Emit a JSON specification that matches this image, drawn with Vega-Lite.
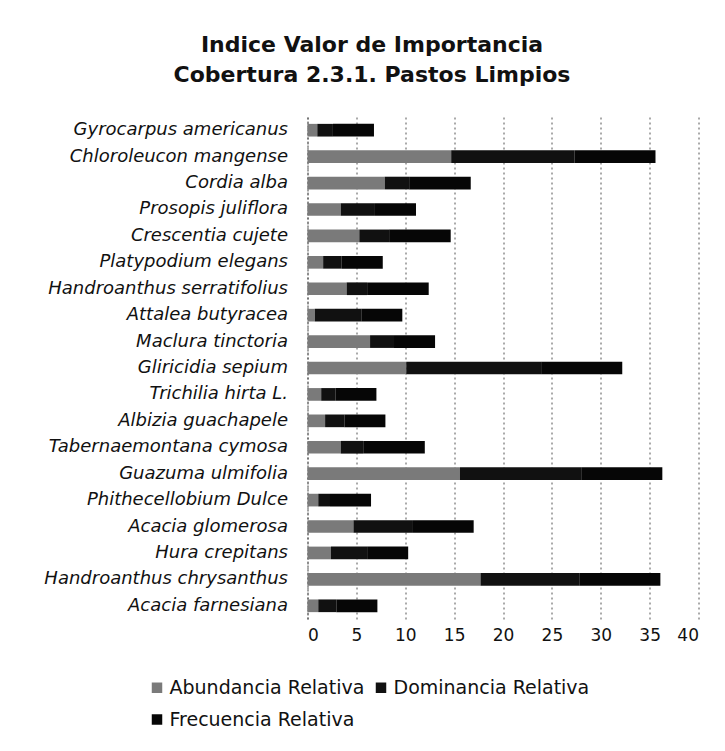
{
  "$schema": "https://vega.github.io/schema/vega-lite/v6.json",
  "autosize": {"type": "none"},
  "padding": {"left": 307.5, "top": 117, "right": 26.5, "bottom": 132},
  "width": 391,
  "height": 502,
  "background": "white",
  "title": {
    "text": ["Indice Valor de Importancia", "Cobertura 2.3.1. Pastos Limpios"],
    "font": "DejaVu Sans",
    "fontSize": 22,
    "fontWeight": "bold",
    "color": "#111111",
    "lineHeight": 30,
    "anchor": "middle",
    "frame": "group",
    "dx": -131,
    "offset": 30
  },
  "data": {
    "values": [
      {"species": "Gyrocarpus americanus", "Abundancia Relativa": 1.0, "Dominancia Relativa": 1.6, "Frecuencia Relativa": 4.2},
      {"species": "Chloroleucon mangense", "Abundancia Relativa": 14.7, "Dominancia Relativa": 12.6, "Frecuencia Relativa": 8.3},
      {"species": "Cordia alba", "Abundancia Relativa": 7.9, "Dominancia Relativa": 2.5, "Frecuencia Relativa": 6.3},
      {"species": "Prosopis juliflora", "Abundancia Relativa": 3.4, "Dominancia Relativa": 3.5, "Frecuencia Relativa": 4.2},
      {"species": "Crescentia cujete", "Abundancia Relativa": 5.3, "Dominancia Relativa": 3.05, "Frecuencia Relativa": 6.3},
      {"species": "Platypodium elegans", "Abundancia Relativa": 1.6, "Dominancia Relativa": 1.9, "Frecuencia Relativa": 4.2},
      {"species": "Handroanthus serratifolius", "Abundancia Relativa": 4.0, "Dominancia Relativa": 2.1, "Frecuencia Relativa": 6.3},
      {"species": "Attalea butyracea", "Abundancia Relativa": 0.75, "Dominancia Relativa": 4.75, "Frecuencia Relativa": 4.2},
      {"species": "Maclura tinctoria", "Abundancia Relativa": 6.4, "Dominancia Relativa": 2.45, "Frecuencia Relativa": 4.2},
      {"species": "Gliricidia sepium", "Abundancia Relativa": 10.1, "Dominancia Relativa": 13.8, "Frecuencia Relativa": 8.3},
      {"species": "Trichilia hirta L.", "Abundancia Relativa": 1.4, "Dominancia Relativa": 1.45, "Frecuencia Relativa": 4.2},
      {"species": "Albizia guachapele", "Abundancia Relativa": 1.8, "Dominancia Relativa": 1.97, "Frecuencia Relativa": 4.2},
      {"species": "Tabernaemontana cymosa", "Abundancia Relativa": 3.4, "Dominancia Relativa": 2.3, "Frecuencia Relativa": 6.3},
      {"species": "Guazuma ulmifolia", "Abundancia Relativa": 15.6, "Dominancia Relativa": 12.4, "Frecuencia Relativa": 8.3},
      {"species": "Phithecellobium Dulce", "Abundancia Relativa": 1.1, "Dominancia Relativa": 1.2, "Frecuencia Relativa": 4.2},
      {"species": "Acacia glomerosa", "Abundancia Relativa": 4.7, "Dominancia Relativa": 6.0, "Frecuencia Relativa": 6.3},
      {"species": "Hura crepitans", "Abundancia Relativa": 2.4, "Dominancia Relativa": 3.7, "Frecuencia Relativa": 4.2},
      {"species": "Handroanthus chrysanthus", "Abundancia Relativa": 17.7, "Dominancia Relativa": 10.1, "Frecuencia Relativa": 8.3},
      {"species": "Acacia farnesiana", "Abundancia Relativa": 1.1, "Dominancia Relativa": 1.85, "Frecuencia Relativa": 4.2}
    ]
  },
  "transform": [
    {"fold": ["Abundancia Relativa", "Dominancia Relativa", "Frecuencia Relativa"], "as": ["serie", "valor"]}
  ],
  "mark": {"type": "bar"},
  "encoding": {
    "y": {
      "field": "species",
      "type": "nominal",
      "sort": null,
      "scale": {"paddingInner": 0.52, "paddingOuter": 0.26},
      "axis": {
        "title": null,
        "ticks": false,
        "grid": false,
        "domain": true,
        "domainColor": "#444444",
        "domainDash": [2, 2],
        "labelFont": "DejaVu Sans",
        "labelFontStyle": "italic",
        "labelFontSize": 18,
        "labelColor": "#111111",
        "labelPadding": 20,
        "labelLimit": 400
      }
    },
    "x": {
      "field": "valor",
      "type": "quantitative",
      "stack": "zero",
      "scale": {"domain": [0, 40], "nice": false},
      "axis": {
        "title": null,
        "values": [0, 5, 10, 15, 20, 25, 30, 35, 40],
        "ticks": false,
        "domain": false,
        "grid": true,
        "gridColor": "#555555",
        "gridDash": [2, 3],
        "gridWidth": 1,
        "labelFont": "DejaVu Sans",
        "labelFontSize": 17,
        "labelColor": "#111111",
        "labelPadding": 8
      }
    },
    "color": {
      "field": "serie",
      "type": "nominal",
      "scale": {
        "domain": ["Abundancia Relativa", "Dominancia Relativa", "Frecuencia Relativa"],
        "range": ["#7a7a7a", "#111111", "#060606"]
      },
      "legend": {
        "title": null,
        "orient": "none",
        "legendX": -160,
        "legendY": 561,
        "direction": "horizontal",
        "columns": 2,
        "columnPadding": 7,
        "rowPadding": 12,
        "symbolType": "square",
        "symbolSize": 110,
        "symbolStrokeWidth": 0,
        "labelFont": "DejaVu Sans",
        "labelFontSize": 19,
        "labelColor": "#111111",
        "labelOffset": 3,
        "labelLimit": 300
      }
    },
    "order": {"field": "serie", "type": "nominal"}
  },
  "config": {
    "view": {"stroke": null}
  }
}
